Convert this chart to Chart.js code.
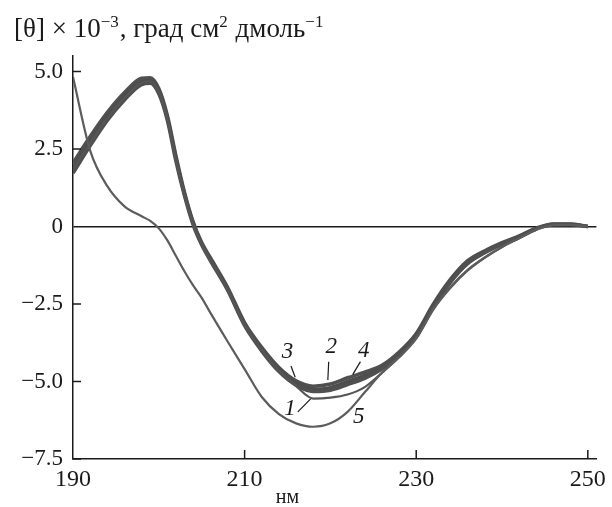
<!DOCTYPE html>
<html>
<head>
<meta charset="utf-8">
<script src="https://cdn.jsdelivr.net/npm/chart.js@4/dist/chart.umd.min.js"></script>
<style>
  html, body { margin: 0; padding: 0; background: #fff; }
  #wrap { width: 612px; height: 507px; }
</style>
</head>
<body>
<div id="wrap"><canvas id="cd"></canvas></div>
<script>
// Wavelength, nm
const wavelengths = [190, 192, 194, 196, 198, 199, 200, 201, 202, 203, 204, 205, 206, 208, 210,
    212, 214, 216, 218, 220, 222, 224, 226, 228, 230, 232, 234, 236, 238, 240, 242, 244, 246, 248, 250];

// [θ] x 10^-3 for each curve
const curve1 = [1.85, 2.7, 3.5, 4.15, 4.64, 4.68, 4.35, 3.48, 2.16, 1.02, 0.08, -0.58, -1.08, -2.02, -3.18,
    -3.98, -4.64, -5.15, -5.55, -5.52, -5.42, -5.18, -4.72, -4.22, -3.6, -2.65, -1.95, -1.4, -1.0, -0.66, -0.38, -0.1, 0.05, 0.05, 0.0];
const curve2 = [1.9, 2.75, 3.55, 4.2, 4.68, 4.72, 4.38, 3.5, 2.2, 1.05, 0.12, -0.55, -1.05, -2.0, -3.15,
    -3.95, -4.6, -5.05, -5.25, -5.2, -5.0, -4.8, -4.55, -4.1, -3.5, -2.55, -1.75, -1.15, -0.82, -0.55, -0.33, -0.07, 0.07, 0.07, 0.0];
const curve3 = [1.72, 2.6, 3.42, 4.08, 4.58, 4.62, 4.28, 3.42, 2.1, 0.98, 0.05, -0.6, -1.1, -2.05, -3.2,
    -4.02, -4.68, -5.12, -5.32, -5.28, -5.1, -4.9, -4.6, -4.15, -3.55, -2.6, -1.8, -1.2, -0.85, -0.57, -0.34, -0.08, 0.06, 0.06, 0.0];
const curve4 = [2.05, 2.9, 3.68, 4.32, 4.78, 4.8, 4.45, 3.58, 2.28, 1.1, 0.15, -0.52, -1.0, -1.95, -3.1,
    -3.9, -4.55, -4.98, -5.15, -5.08, -4.88, -4.7, -4.48, -4.05, -3.45, -2.5, -1.7, -1.1, -0.78, -0.52, -0.3, -0.05, 0.08, 0.08, 0.0];
const curve5 = [4.82, 2.45, 1.3, 0.65, 0.33, 0.18, -0.06, -0.45, -0.95, -1.45, -1.9, -2.3, -2.78, -3.7, -4.6,
    -5.5, -6.05, -6.35, -6.46, -6.35, -5.98, -5.35, -4.72, -4.22, -3.62, -2.68, -1.98, -1.42, -1.0, -0.66, -0.38, -0.1, 0.04, 0.05, 0.0];

// Axes
const xTicks = [190, 210, 230, 250];
const yTicks = [-7.5, -5, -2.5, 0, 2.5, 5];
const yTickLabels = ['\u22127.5', '\u22125.0', '\u22122.5', '0', '2.5', '5.0'];

// Curve numbers: [text, label nm, label value, leader from nm, value, to nm, value]
const curveLabels = [
    ['3', 215.0, -4.05, 215.4, -4.5, 215.9, -4.86],
    ['2', 220.1, -3.9, 219.8, -4.36, 219.7, -4.95],
    ['4', 223.9, -4.0, 223.5, -4.36, 222.6, -4.78],
    ['1', 215.3, -5.9, 216.2, -5.98, 217.7, -5.56],
    ['5', 223.3, -6.15, null, null, null, null],
];

const serif = '"Liberation Serif", "DejaVu Serif", serif';
const ink = '#1a1a1a';

function points(values) {
    return wavelengths.map((x, i) => ({ x: x, y: values[i] }));
}

function line(values, width, color) {
    return {
        data: points(values),
        borderColor: color,
        borderWidth: width,
        pointRadius: 0,
        fill: false,
        cubicInterpolationMode: 'monotone',
    };
}

// Extra drawing: inner ticks, titles, curve numbers
const decorations = {
    id: 'decorations',
    afterDraw(chart) {
        const ctx = chart.ctx;
        const x = chart.scales.x;
        const y = chart.scales.y;
        const area = chart.chartArea;
        ctx.save();
        ctx.strokeStyle = ink;
        ctx.lineWidth = 1.5;
        yTicks.forEach((v) => {
            if (v === 0) return;
            const py = y.getPixelForValue(v);
            ctx.beginPath();
            ctx.moveTo(area.left, py);
            ctx.lineTo(area.left + 8, py);
            ctx.stroke();
        });
        xTicks.forEach((v) => {
            if (v === 190) return;
            const px = x.getPixelForValue(v);
            ctx.beginPath();
            ctx.moveTo(px, area.bottom);
            ctx.lineTo(px, area.bottom - 9);
            ctx.stroke();
        });

        // y title with superscripts
        const parts = [['[\u03b8] \u00d7 10', false], ['\u22123', true], [', \u0433\u0440\u0430\u0434 \u0441\u043c', false],
            ['2', true], [' \u0434\u043c\u043e\u043b\u044c', false], ['\u22121', true]];
        let tx = 14;
        ctx.fillStyle = ink;
        ctx.textBaseline = 'alphabetic';
        ctx.textAlign = 'left';
        parts.forEach(([text, sup]) => {
            ctx.font = (sup ? '17px ' : '27px ') + serif;
            ctx.fillText(text, tx, sup ? 27 : 37);
            tx += ctx.measureText(text).width + (sup ? 1 : 0);
        });

        // x title
        ctx.font = '20px ' + serif;
        ctx.textAlign = 'center';
        ctx.fillText('\u043d\u043c', x.getPixelForValue(215), 503);

        // curve numbers
        ctx.font = 'italic 23px ' + serif;
        ctx.textBaseline = 'middle';
        ctx.lineWidth = 1.2;
        curveLabels.forEach(([text, lx, ly, ax, ay, bx, by]) => {
            ctx.fillText(text, x.getPixelForValue(lx), y.getPixelForValue(ly));
            if (ax !== null) {
                ctx.beginPath();
                ctx.moveTo(x.getPixelForValue(ax), y.getPixelForValue(ay));
                ctx.lineTo(x.getPixelForValue(bx), y.getPixelForValue(by));
                ctx.stroke();
            }
        });
        ctx.restore();
    },
};

new Chart(document.getElementById('cd'), {
    type: 'line',
    data: {
        datasets: [
            line(curve5, 2.2, '#5c5c5c'),
            line(curve1, 2.2, '#555555'),
            line(curve3, 3.5, '#505050'),
            line(curve2, 3.5, '#4d4d4d'),
            line(curve4, 3.5, '#505050'),
        ],
    },
    options: {
        responsive: true,
        maintainAspectRatio: false,
        animation: false,
        devicePixelRatio: 1,
        layout: { padding: { left: 0, right: 11, top: 56, bottom: 0 } },
        plugins: { legend: { display: false }, tooltip: { enabled: false } },
        scales: {
            x: {
                type: 'linear',
                min: 190,
                max: 251,
                afterBuildTicks: (s) => { s.ticks = xTicks.map((v) => ({ value: v })); },
                afterFit: (s) => { s.height = 48; },
                grid: { display: false, drawTicks: false },
                border: { display: true, color: ink, width: 1.5 },
                ticks: {
                    font: { family: serif, size: 24 },
                    color: ink,
                    padding: 6,
                    maxRotation: 0,
                    autoSkip: false,
                    callback: (v) => String(v),
                },
            },
            y: {
                type: 'linear',
                min: -7.5,
                max: 5.5,
                afterBuildTicks: (s) => { s.ticks = yTicks.map((v) => ({ value: v })); },
                afterFit: (s) => { s.width = 73; },
                grid: {
                    drawTicks: false,
                    lineWidth: 1.5,
                    color: (c) => (c.tick && c.tick.value === 0 ? ink : 'rgba(0,0,0,0)'),
                },
                border: { display: true, color: ink, width: 1.5 },
                ticks: {
                    font: { family: serif, size: 23 },
                    color: ink,
                    padding: 10,
                    autoSkip: false,
                    callback: (v) => yTickLabels[yTicks.indexOf(v)],
                },
            },
        },
    },
    plugins: [decorations],
});
</script>
</body>
</html>
